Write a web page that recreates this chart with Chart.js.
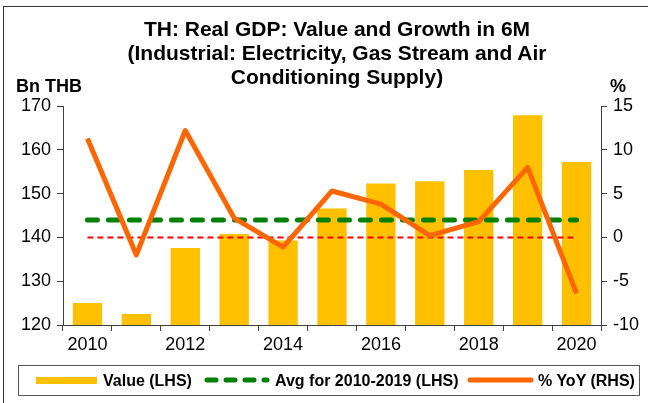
<!DOCTYPE html>
<html>
<head>
<meta charset="utf-8">
<script src="https://cdn.jsdelivr.net/npm/chart.js@4.4.1/dist/chart.umd.min.js"></script>
<style>
  html, body { margin: 0; padding: 0; background: #ffffff; }
  #wrap { position: relative; width: 648px; height: 403px; overflow: hidden; background: #fff;
          font-family: "Liberation Sans", Arial, sans-serif; color: #000; }
  #frame { position: absolute; left: 3px; top: 6px; width: 660px; height: 420px;
           border-left: 1.5px solid #333; border-top: 1.5px solid #333; }
  #title { position: absolute; left: 37px; top: 17px; width: 600px; text-align: center;
           font-weight: bold; font-size: 21px; line-height: 24px; }
  .axt { position: absolute; font-weight: bold; font-size: 18px; line-height: 18px; }
  #legend { position: absolute; left: 18px; top: 365px; width: 622px; height: 31px;
            border: 1.5px solid #555; box-sizing: border-box; }
  .lt { position: absolute; top: 7px; font-weight: bold; font-size: 16px; line-height: 16px; white-space: nowrap; }
  canvas { position: absolute; left: 0; top: 0; }
</style>
</head>
<body>
<div id="wrap">
  <div id="frame"></div>
  <canvas id="c" width="648" height="403"></canvas>
  <div id="title">TH: Real GDP: Value and Growth in 6M<br>(Industrial: Electricity, Gas Stream and Air<br>Conditioning Supply)</div>
  <div class="axt" style="left:16px; top:77px;">Bn THB</div>
  <div class="axt" style="left:610px; top:77px;">%</div>
  <div id="legend">
    <div style="position:absolute; left:17px; top:11px; width:61px; height:7px; background:#FFC000;"></div>
    <div class="lt" style="left:84px;">Value (LHS)</div>
    <svg style="position:absolute; left:185px; top:9px;" width="66" height="10">
      <line x1="3" y1="5" x2="63" y2="5" stroke="#008000" stroke-width="5" stroke-linecap="round" stroke-dasharray="9 10"/>
    </svg>
    <div class="lt" style="left:256px;">Avg for 2010-2019 (LHS)</div>
    <svg style="position:absolute; left:448px; top:9px;" width="68" height="10">
      <line x1="3" y1="5" x2="64" y2="5" stroke="#FF6600" stroke-width="5" stroke-linecap="round"/>
    </svg>
    <div class="lt" style="left:519px;">% YoY (RHS)</div>
  </div>
</div>
<script>
const years = ['2010','2011','2012','2013','2014','2015','2016','2017','2018','2019','2020'];
const valueBn = [125.0, 122.5, 137.6, 140.8, 139.3, 146.6, 152.3, 152.8, 155.4, 167.9, 157.2];
const avg2010to2019 = [144, 144, 144, 144, 144, 144, 144, 144, 144, 144, 144];
const yoyPct = [11.3, -2.0, 12.2, 2.2, -1.1, 5.3, 3.8, 0.2, 1.8, 8.0, -6.4];
const zeroLine = [0, 0, 0, 0, 0, 0, 0, 0, 0, 0, 0];
const leftTicks = [120, 130, 140, 150, 160, 170];
const rightTicks = [-10, -5, 0, 5, 10, 15];

const tickFont = { family: "'Liberation Sans', Arial, sans-serif", size: 18 };
const axisColor = '#404040';

new Chart(document.getElementById('c'), {
  type: 'bar',
  data: {
    labels: years,
    datasets: [
      { type: 'bar', label: 'Value (LHS)', data: valueBn, yAxisID: 'y', order: 4,
        backgroundColor: '#FFC000', borderWidth: 0, barPercentage: 0.6, categoryPercentage: 1.0 },
      { type: 'line', label: 'zero', data: zeroLine, yAxisID: 'y1', order: 3,
        borderColor: '#FF0000', borderWidth: 2, borderDash: [6, 4], pointRadius: 0, fill: false },
      { type: 'line', label: 'Avg for 2010-2019 (LHS)', data: avg2010to2019, yAxisID: 'y', order: 2,
        borderColor: '#008000', borderWidth: 5, borderDash: [10, 11], borderCapStyle: 'round',
        pointRadius: 0, fill: false },
      { type: 'line', label: '% YoY (RHS)', data: yoyPct, yAxisID: 'y1', order: 1,
        borderColor: '#FF6600', borderWidth: 5, pointRadius: 0, fill: false, tension: 0,
        borderJoinStyle: 'round', borderCapStyle: 'butt' }
    ]
  },
  options: {
    responsive: false,
    animation: false,
    devicePixelRatio: 1,
    layout: { padding: { left: 0, right: 0, top: 106, bottom: 0 } },
    plugins: { legend: { display: false }, title: { display: false }, tooltip: { enabled: false } },
    scales: {
      x: {
        offset: true,
        grid: { offset: true, drawOnChartArea: false, drawTicks: true, tickLength: 6, color: axisColor },
        border: { display: true, color: axisColor, width: 1 },
        ticks: { autoSkip: false, maxRotation: 0, minRotation: 0, color: '#000', font: tickFont, padding: 3,
                 callback: (v, i) => (i % 2 === 0 ? years[i] : '') },
        afterFit: s => { s.height = 78; }
      },
      y: {
        position: 'left', min: leftTicks[0], max: leftTicks[leftTicks.length - 1],
        afterBuildTicks: s => { s.ticks = leftTicks.map(v => ({ value: v })); },
        grid: { drawOnChartArea: false, drawTicks: true, tickLength: 6, color: axisColor },
        border: { display: true, color: axisColor, width: 1 },
        ticks: { color: '#000', font: tickFont, padding: 6 },
        afterFit: s => { s.width = 63; }
      },
      y1: {
        position: 'right', min: rightTicks[0], max: rightTicks[rightTicks.length - 1],
        afterBuildTicks: s => { s.ticks = rightTicks.map(v => ({ value: v })); },
        grid: { drawOnChartArea: false, drawTicks: true, tickLength: 6, color: axisColor },
        border: { display: true, color: axisColor, width: 1 },
        ticks: { color: '#000', font: tickFont, padding: 6 },
        afterFit: s => { s.width = 47; }
      }
    }
  }
});
</script>
</body>
</html>
